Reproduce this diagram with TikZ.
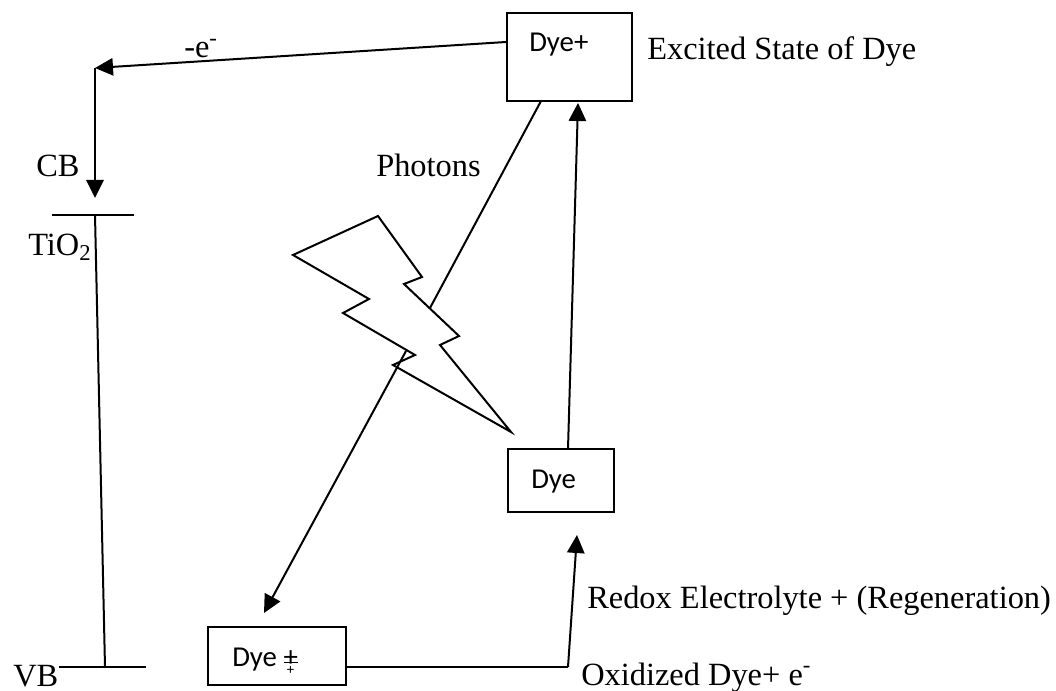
\documentclass[tikz,border=0pt]{standalone}
\usepackage{fontspec}
\setmainfont{Liberation Serif}
\newfontfamily\boxfont{Carlito}
\usepackage{tikz}
\usetikzlibrary{arrows.meta,positioning}
\begin{document}
\begin{tikzpicture}[
  x=0.75pt,y=-0.75pt,
  dyebox/.style={rectangle,draw=black,fill=white,line width=1.5pt,inner sep=0pt},
  dyetxt/.style={inner sep=0pt,anchor=base west,font=\boxfont\fontsize{21.6}{24}\selectfont},
  lbl/.style={inner sep=0pt,anchor=base west,font=\fontsize{24.3}{26}\selectfont},
  arrow/.style={-{Triangle[length=13.5pt,width=13pt]},line width=1.5pt},
  plain/.style={line width=1.5pt}
]
\useasboundingbox (0,0) rectangle (1056,691);
\node[dyebox,minimum width=93.75pt,minimum height=66pt] (excited) at (569.5,57) {};
\node[dyebox,minimum width=79.5pt,minimum height=47pt] (ground) at (561,480.5) {};
\node[dyebox,minimum width=103.5pt,minimum height=43.5pt] (oxidized) at (277,656) {};
\node[dyetxt] (excitedtxt) at (529,52) {Dye+};
\node[dyetxt] (groundtxt) at (531,488) {Dye};
\node[dyetxt] (oxidizedtxt) at (232,666) {Dye +\llap{\rule[2.2pt]{10.5pt}{0.9pt}}\llap{\raisebox{-6.5pt}{\fontsize{11}{11}\selectfont +\hspace{2.8pt}}}};
% corner and line ends
\coordinate (corner) at (95,68);
\coordinate (cbtop) at (95,198);
\coordinate (tileft) at (52,215);
\coordinate (tiright) at (134,215);
\coordinate (tibar) at (95,215);
\coordinate (vbleft) at (59,667);
\coordinate (vbright) at (146,667);
\coordinate (vbbar) at (105,667);
\coordinate (redoxbend) at (568,667);
\coordinate (redoxtip) at (577,535);
\coordinate (photonend) at (430,308);
\coordinate (photonstart) at (406,351);
\coordinate (photontip) at (264,613);
% labels
\node[lbl] (excitedlbl) at (647,60) {Excited State of Dye};
\node[lbl] (cb) at (36,177) {CB};
\node[lbl] (tio) at (28,256) {TiO\textsubscript{2}};
\node[lbl] (vb) at (13,686) {VB};
\node[lbl] (photons) at (376,177) {Photons};
\node[lbl] (ee) at (184,58) {-e\textsuperscript{-}};
\node[lbl] (redox) at (587,608) {Redox Electrolyte + (Regeneration)};
\node[lbl] (oxlbl) at (581,685) {Oxidized Dye+ e\textsuperscript{-}};
% connectors
\draw[arrow] (excited.west |- 0,42) -- (corner);
\draw[arrow] (corner) -- (cbtop);
\draw[plain] (tileft) -- (tiright);
\draw[plain] (tibar) -- (vbbar);
\draw[plain] (vbleft) -- (vbright);
\draw[plain] (541,101) -- (photonend);
\draw[arrow] (photonstart) -- (photontip);
\draw[arrow] (568,449) -- (578,103);
\draw[plain] (oxidized.east |- redoxbend) -- (redoxbend);
\draw[arrow] (redoxbend) -- (redoxtip);
% lightning
\draw[plain,line join=miter] (378,216) -- (422,277) -- (404,284) -- (459,336) -- (440,345) -- (511,432) -- (393,365) -- (415,355) -- (343,313) -- (369,299) -- (293,255) -- cycle;
\end{tikzpicture}
\end{document}
